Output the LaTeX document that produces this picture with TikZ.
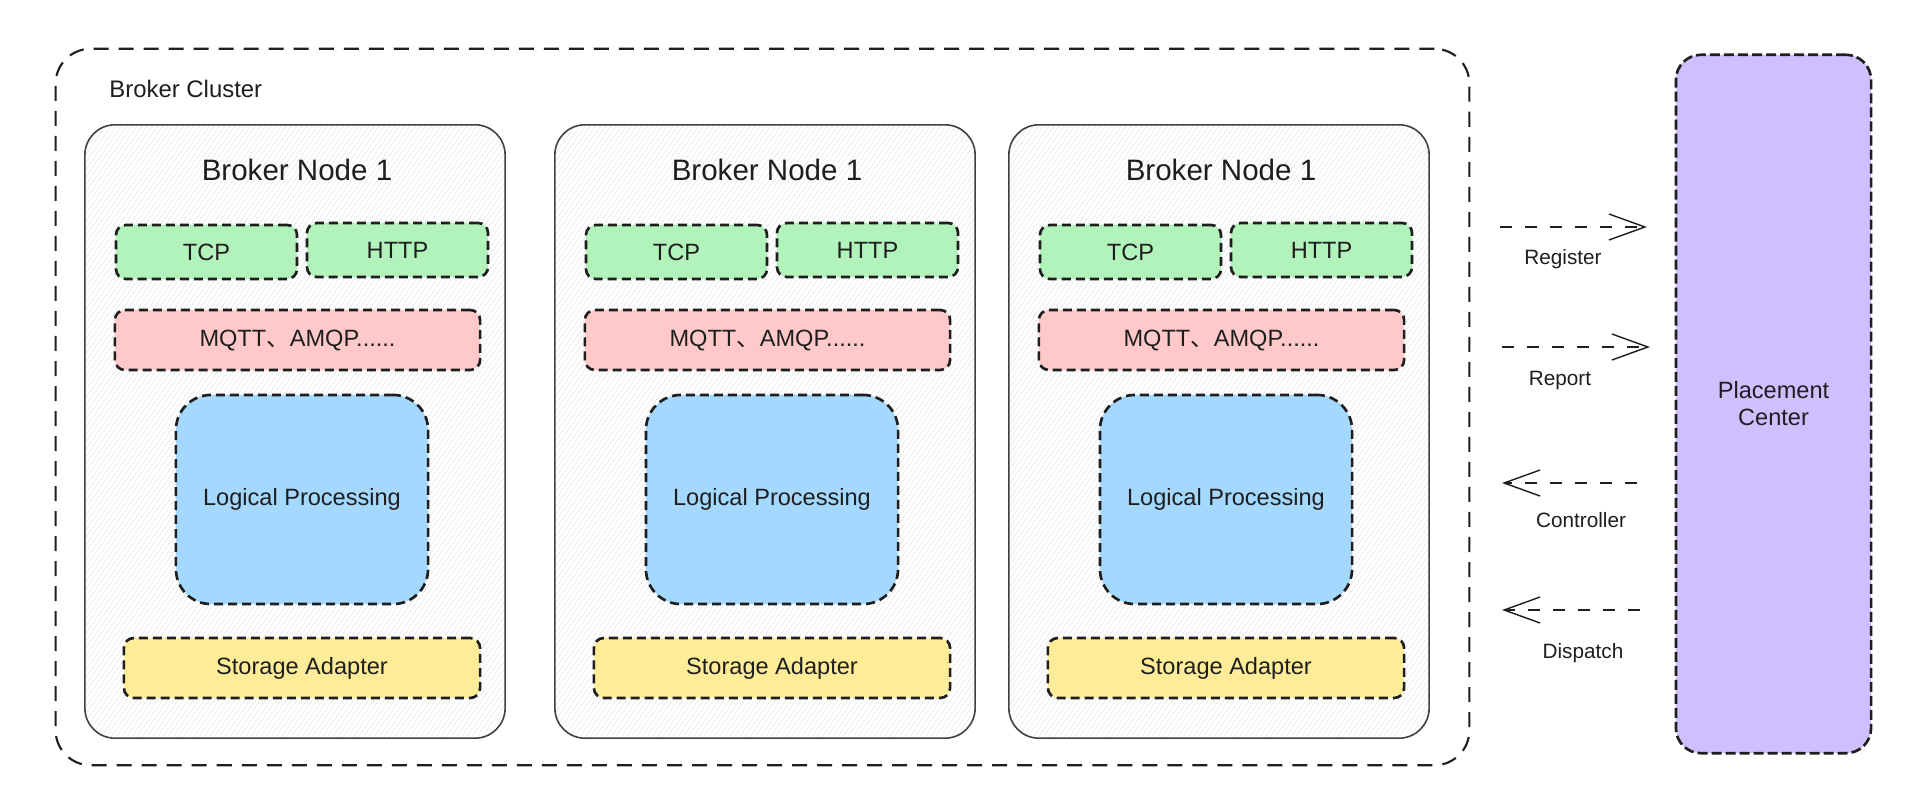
\documentclass[tikz,border=0pt]{standalone}
\usepackage{fontspec}
\setmainfont{Liberation Sans}
\newfontfamily\cjk{Noto Sans CJK SC}
\usetikzlibrary{arrows.meta,patterns.meta}
\definecolor{ink}{HTML}{1E1E1E}
\definecolor{protogreen}{HTML}{B2F2BB}
\definecolor{mqttred}{HTML}{FFC9C9}
\definecolor{logicblue}{HTML}{A5D8FF}
\definecolor{storeyellow}{HTML}{FFEC99}
\definecolor{placeviolet}{HTML}{D0BFFF}
\tikzset{cluster/.style={draw=ink,line width=.6pt,dash pattern=on 1.5mm off 1mm,rounded corners=3.5mm,inner sep=0pt},
brokernode/.style={draw=ink!85,line width=.45pt,rounded corners=3mm,inner sep=0pt,minimum width=4.2cm,minimum height=6.13cm,
  preaction={fill=white},pattern={Lines[angle=55,distance=1.2pt,line width=.15pt]},pattern color=black!10},
part/.style={draw=ink,line width=.75pt,dash pattern=on .9mm off .5mm,rounded corners=1mm,inner sep=0pt,
  text=ink,font=\fontsize{6.7}{8}\selectfont},
nodetitle/.style={text=ink,font=\fontsize{8.4}{10}\selectfont},
lab/.style={text=ink,font=\fontsize{5.9}{7}\selectfont},
flow/.style={-{Straight Barb[length=3.6mm,width=2.6mm]},draw=ink,line width=.4pt,dash pattern=on 1.2mm off 1.3mm}}
\begin{document}
\begin{tikzpicture}[x=.01cm,y=-.01cm]
\path[fill=white,use as bounding box] (0,0) rectangle (1920,800);
% cluster frame
\node[cluster,minimum width=14.13cm,minimum height=7.16cm] (cluster) at (762.5,407) {};
\node[text=ink,font=\fontsize{6.8}{8}\selectfont,anchor=west] (clusterlab) at (97,89) {Broker Cluster};
% broker nodes
\foreach \i/\x in {1/85,2/555,3/1009}{
  \node[brokernode] (node\i) at (\x+210,431.5) {};
  \node[nodetitle] (title\i) at (\x+212,170) {Broker Node 1};
  \node[part,fill=protogreen,minimum width=1.81cm,minimum height=.54cm] (tcp\i) at (\x+121.5,252) {TCP};
  \node[part,fill=protogreen,minimum width=1.81cm,minimum height=.54cm] (http\i) at (\x+312.5,250) {HTTP};
  \node[part,fill=mqttred,minimum width=3.65cm,minimum height=.6cm] (mqtt\i) at (\x+212.5,340) {MQTT{\cjk 、}AMQP......};
  \node[part,fill=logicblue,rounded corners=3.5mm,minimum width=2.52cm,minimum height=2.09cm] (logic\i) at (\x+217,499.5) {Logical Processing};
  \node[part,fill=storeyellow,minimum width=3.56cm,minimum height=.6cm] (store\i) at (\x+217,668) {Storage Adapter};
}
% placement center
\node[part,fill=placeviolet,dash pattern=on 1mm off .4mm,rounded corners=2.5mm,minimum width=1.95cm,minimum height=6.98cm,
  align=center,font=\fontsize{6.7}{7.7}\selectfont] (placement) at (1773.5,404) {Placement\\Center};
% messages
\coordinate (reg-a) at (1500,227);
\coordinate (reg-b) at (1647,227);
\coordinate (rep-a) at (1502,347);
\coordinate (rep-b) at (1650,347);
\coordinate (ctl-a) at (1637,483);
\coordinate (ctl-b) at (1502,483);
\coordinate (dsp-a) at (1640,610);
\coordinate (dsp-b) at (1502,610);
\draw[flow] (reg-a) -- (reg-b);
\draw[flow] (rep-a) -- (rep-b);
\draw[flow] (ctl-a) -- (ctl-b);
\draw[flow] (dsp-a) -- (dsp-b);
\node[lab] (reglab) at (1563,259) {Register};
\node[lab] (replab) at (1560,381) {Report};
\node[lab] (ctllab) at (1581,520) {Controller};
\node[lab] (dsplab) at (1583,653) {Dispatch};
\end{tikzpicture}
\end{document}
